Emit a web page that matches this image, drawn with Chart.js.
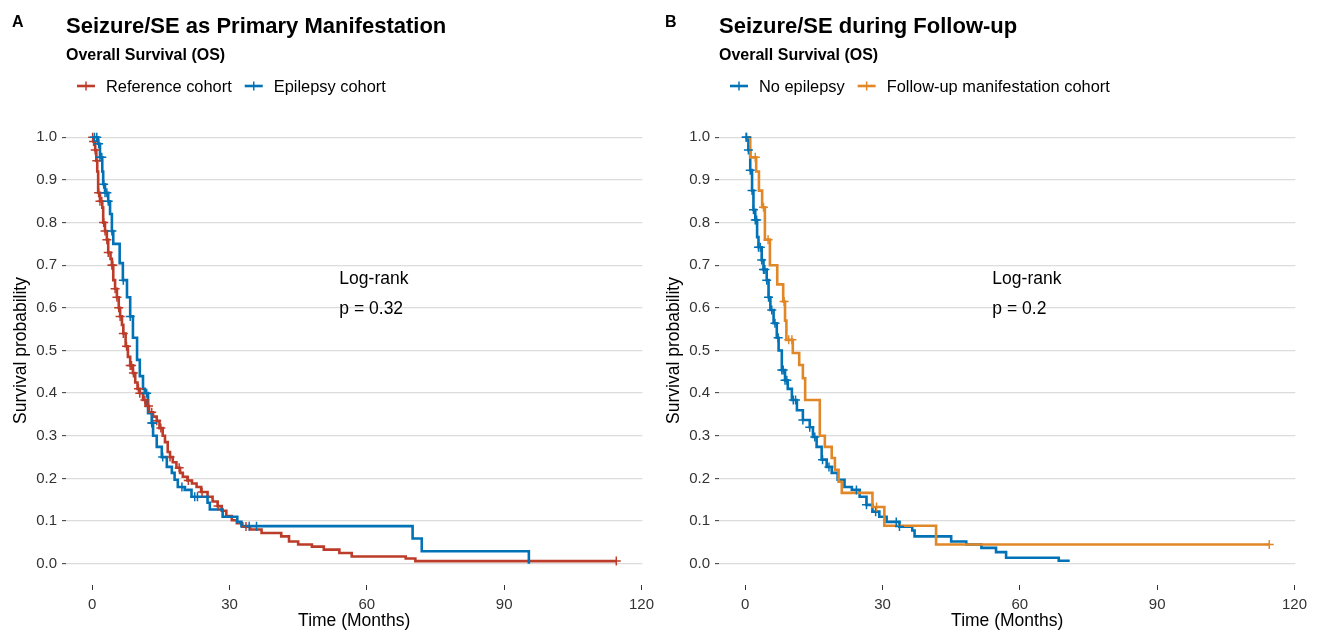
<!DOCTYPE html>
<html>
<head>
<meta charset="utf-8">
<script src="https://cdn.jsdelivr.net/npm/chart.js@4.4.1/dist/chart.umd.min.js"></script>
<style>
  html, body { margin: 0; padding: 0; background: #fff; }
  #wrap { position: relative; width: 1320px; height: 632px; }
  .panel { position: absolute; top: 0; width: 660px; height: 632px; }
  #pa { left: 0; }
  #pb { left: 653px; }
</style>
</head>
<body>
<div id="wrap">
  <div class="panel" id="pa"><canvas id="chartA" width="660" height="632"></canvas></div>
  <div class="panel" id="pb"><canvas id="chartB" width="660" height="632"></canvas></div>
</div>
<script>
// tick labels
const xTicks = [0, 30, 60, 90, 120];
const yTicks = [0, 0.1, 0.2, 0.3, 0.4, 0.5, 0.6, 0.7, 0.8, 0.9, 1.0];

// Panel A - Reference cohort (KM steps, months / survival)
const refTimes = [0, 0.3, 0.65, 0.9, 1.1, 1.3, 1.7, 2.2, 2.4, 2.8, 3.2, 3.5, 4.0, 4.3, 4.6, 5.0, 5.4, 5.8, 6.1, 6.5,
  6.8, 7.3, 7.8, 8.3, 8.9, 9.4, 9.9, 10.4, 11.1, 11.7, 12.4, 13.3, 14.1, 14.7, 15.4, 15.9, 16.5, 17.0, 17.6, 18.4,
  19.2, 19.8, 20.8, 21.8, 22.8, 23.8, 25.2, 26.3, 27.4, 28.3, 29.3, 30.5, 31.6, 32.8, 34.5, 37, 41.3, 43, 45, 48,
  50.6, 54, 56.7, 68.5, 70.6, 114.5];
const refSurv = [1.0, 0.99, 0.97, 0.945, 0.92, 0.87, 0.85, 0.835, 0.80, 0.78, 0.76, 0.73, 0.715, 0.70, 0.665, 0.645, 0.625, 0.60, 0.58, 0.56,
  0.54, 0.51, 0.485, 0.465, 0.447, 0.425, 0.41, 0.40, 0.384, 0.37, 0.355, 0.345, 0.335, 0.318, 0.30, 0.285, 0.262, 0.25, 0.238, 0.225,
  0.213, 0.204, 0.195, 0.188, 0.18, 0.168, 0.157, 0.146, 0.135, 0.124, 0.112, 0.102, 0.095, 0.087, 0.08, 0.072, 0.064, 0.052, 0.045, 0.04,
  0.033, 0.025, 0.017, 0.012, 0.006, 0.006];
const refCensor = [0.1, 0.3, 0.65, 1.0, 1.4, 1.7, 2.1, 2.5, 2.8, 3.2, 3.5, 4.3, 4.5, 5.0, 5.4, 5.8, 6.1, 6.8, 7.5, 8.3,
  8.6, 9.0, 10.1, 10.4, 11.5, 12.3, 13.0, 14.1, 15.0, 17.0, 19.0, 21.0, 24.0, 27.5, 33.6, 114.5];

// Panel A - Epilepsy cohort
const epiTimes = [0, 1.3, 1.7, 2.2, 2.4, 2.8, 3.5, 3.9, 4.3, 4.6, 6.0, 6.7, 7.6, 8.3, 8.9, 9.8, 10.4, 11.1, 11.5, 12.2,
  13.0, 13.3, 14.1, 15.2, 16.3, 17.4, 18.0, 18.7, 20.2, 21.7, 25.2, 25.7, 28.5, 31.7, 32.6, 70.0, 72.0, 95.4];
const epiSurv = [1.0, 0.985, 0.953, 0.92, 0.89, 0.87, 0.85, 0.82, 0.78, 0.75, 0.705, 0.665, 0.625, 0.58, 0.53, 0.478, 0.44, 0.41, 0.40, 0.353,
  0.33, 0.30, 0.274, 0.25, 0.227, 0.213, 0.197, 0.18, 0.173, 0.157, 0.143, 0.127, 0.11, 0.098, 0.088, 0.059, 0.029, 0.0];
const epiCensor = [0.5, 1.0, 1.4, 1.7, 2.1, 2.5, 2.8, 3.2, 3.5, 4.3, 6.8, 8.3, 11.9, 13.0, 13.2, 15.4, 19.6, 22.4, 23.0, 34.3, 35.9];

// Panel B - No epilepsy
const noepTimes = [0, 0.7, 1.1, 1.5, 1.8, 2.2, 2.6, 2.9, 3.6, 4.0, 4.7, 5.1, 5.5, 6.2, 6.9, 7.3, 8.0, 8.7, 9.3, 10.2,
  11.3, 12.6, 14.1, 14.8, 15.6, 16.7, 17.8, 18.9, 20.2, 21.7, 23.3, 25.0, 26.5, 27.8, 29.3, 30.9, 33.7, 36.5, 37.0, 45.0,
  48.3, 51.6, 54.8, 57.0, 68.5, 70.9];
const noepSurv = [1.0, 0.97, 0.923, 0.875, 0.83, 0.806, 0.766, 0.742, 0.712, 0.69, 0.665, 0.625, 0.595, 0.564, 0.53, 0.50, 0.454, 0.43, 0.41, 0.384,
  0.36, 0.337, 0.32, 0.297, 0.274, 0.244, 0.227, 0.213, 0.197, 0.18, 0.173, 0.157, 0.138, 0.122, 0.11, 0.098, 0.087, 0.078, 0.064, 0.052,
  0.045, 0.037, 0.027, 0.014, 0.007, 0.007];
const noepCensor = [0.2, 0.3, 0.7, 1.1, 1.5, 1.8, 2.2, 2.5, 2.9, 3.3, 3.6, 4.0, 4.3, 4.7, 5.1, 5.8, 6.5, 7.2, 8.0, 8.3,
  8.7, 9.1, 10.5, 11.0, 12.6, 14.1, 15.2, 16.9, 18.3, 24.3, 26.5, 28.5, 33.0, 33.7];

// Panel B - Follow-up manifestation cohort
const fuTimes = [0, 1.1, 2.4, 3.0, 3.7, 4.3, 5.4, 7.0, 8.3, 8.7, 9.0, 10.4, 11.8, 12.6, 13.1, 16.3, 17.4, 18.9, 19.6, 20.4,
  21.1, 27.8, 30.4, 41.7, 114.5];
const fuSurv = [1.0, 0.953, 0.92, 0.875, 0.836, 0.76, 0.70, 0.655, 0.615, 0.57, 0.525, 0.494, 0.466, 0.435, 0.384, 0.30, 0.274, 0.248, 0.22, 0.192,
  0.166, 0.133, 0.089, 0.045, 0.045];
const fuCensor = [2.2, 4.0, 5.0, 8.5, 9.5, 10.2, 28.7, 114.5];

const RED = '#BC3C29', BLUE = '#0072B5', ORANGE = '#E18727';
const FONT = '"Liberation Sans", Arial, Helvetica, sans-serif';

function survAt(times, surv, t) {
  let s = surv[0];
  for (let i = 0; i < times.length; i++) {
    if (times[i] <= t) s = surv[i];
  }
  return s;
}

function curve(times, surv, color, order) {
  return {
    data: times.map((t, i) => ({ x: t, y: surv[i] })),
    borderColor: color,
    borderWidth: 2.6,
    stepped: 'before',
    pointRadius: 0,
    fill: false,
    order: order
  };
}

function marks(censor, times, surv, color, order) {
  return {
    data: censor.map(t => ({ x: t, y: survAt(times, surv, t) })),
    borderColor: color,
    backgroundColor: color,
    showLine: false,
    pointStyle: 'cross',
    pointRadius: 4.5,
    pointBorderWidth: 1.5,
    order: order
  };
}

// titles, legend and log-rank text
const decor = {
  id: 'decor',
  afterDraw(chart, args, o) {
    const ctx = chart.ctx;
    const left = chart.chartArea.left;
    ctx.save();
    ctx.fillStyle = '#000';
    ctx.textBaseline = 'alphabetic';
    ctx.textAlign = 'left';
    ctx.font = 'bold 16px ' + FONT;
    ctx.fillText(o.letter, 12, 27);
    ctx.font = 'bold 22px ' + FONT;
    ctx.fillText(o.title, left, 33);
    ctx.font = 'bold 16px ' + FONT;
    ctx.fillText(o.subtitle, left, 60);

    // legend
    let x = left + 11;
    const ly = 86;
    ctx.font = '16.4px ' + FONT;
    ctx.textBaseline = 'middle';
    o.legend.forEach(item => {
      ctx.strokeStyle = item.color;
      ctx.lineWidth = 2.6;
      ctx.beginPath();
      ctx.moveTo(x, ly); ctx.lineTo(x + 18, ly);
      ctx.stroke();
      ctx.lineWidth = 1.5;
      ctx.beginPath();
      ctx.moveTo(x + 9, ly - 4.5); ctx.lineTo(x + 9, ly + 4.5);
      ctx.stroke();
      ctx.fillStyle = '#000';
      ctx.fillText(item.label, x + 29, ly + 1);
      x = x + 29 + ctx.measureText(item.label).width + 13;
    });

    // log-rank
    const xs = chart.scales.x, ys = chart.scales.y;
    ctx.font = '17.5px ' + FONT;
    ctx.fillText('Log-rank', xs.getPixelForValue(o.pos[0]), ys.getPixelForValue(o.pos[1]));
    ctx.fillText(o.pval, xs.getPixelForValue(o.pos[0]), ys.getPixelForValue(o.pos[1] - 0.07));
    ctx.restore();
  }
};

function makeChart(id, datasets, deco) {
  return new Chart(document.getElementById(id), {
    type: 'line',
    data: { datasets: datasets },
    plugins: [decor],
    options: {
      responsive: false,
      animation: false,
      devicePixelRatio: 1,
      layout: { padding: { left: 0, right: 17, top: 116, bottom: 0 } },
      plugins: {
        legend: { display: false },
        tooltip: { enabled: false },
        decor: deco
      },
      scales: {
        x: {
          type: 'linear',
          min: -5.725,
          max: 120.2,
          afterBuildTicks: axis => { axis.ticks = xTicks.map(v => ({ value: v })); },
          afterFit: axis => { axis.height = 47; },
          ticks: { font: { family: FONT, size: 15 }, color: '#333', padding: 6, maxRotation: 0 },
          grid: { drawOnChartArea: false, drawTicks: true, tickLength: 5, tickColor: '#333', tickWidth: 1 },
          border: { display: false },
          title: { display: true, text: 'Time (Months)', color: '#000', font: { family: FONT, size: 17.5 }, padding: { top: 0, bottom: 0 } }
        },
        y: {
          type: 'linear',
          min: -0.05,
          max: 1.05,
          afterBuildTicks: axis => { axis.ticks = yTicks.map(v => ({ value: v })); },
          afterFit: axis => { axis.width = 66; },
          ticks: { font: { family: FONT, size: 15 }, color: '#333', padding: 5, callback: v => v.toFixed(1) },
          grid: { color: '#dcdcdc', lineWidth: 1.3, tickColor: '#333', tickLength: 4, tickWidth: 1 },
          border: { display: false },
          title: { display: true, text: 'Survival probability', color: '#000', font: { family: FONT, size: 17.5 }, padding: { top: 11, bottom: 0 } }
        }
      }
    }
  });
}

makeChart('chartA', [
  marks(epiCensor, epiTimes, epiSurv, BLUE, 0),
  marks(refCensor, refTimes, refSurv, RED, 1),
  curve(epiTimes, epiSurv, BLUE, 2),
  curve(refTimes, refSurv, RED, 3)
], {
  letter: 'A',
  title: 'Seizure/SE as Primary Manifestation',
  subtitle: 'Overall Survival (OS)',
  legend: [{ label: 'Reference cohort', color: RED }, { label: 'Epilepsy cohort', color: BLUE }],
  pos: [54, 0.667],
  pval: 'p = 0.32'
});

makeChart('chartB', [
  marks(fuCensor, fuTimes, fuSurv, ORANGE, 0),
  marks(noepCensor, noepTimes, noepSurv, BLUE, 1),
  curve(fuTimes, fuSurv, ORANGE, 2),
  curve(noepTimes, noepSurv, BLUE, 3)
], {
  letter: 'B',
  title: 'Seizure/SE during Follow-up',
  subtitle: 'Overall Survival (OS)',
  legend: [{ label: 'No epilepsy', color: BLUE }, { label: 'Follow-up manifestation cohort', color: ORANGE }],
  pos: [54, 0.667],
  pval: 'p = 0.2'
});
</script>
</body>
</html>
